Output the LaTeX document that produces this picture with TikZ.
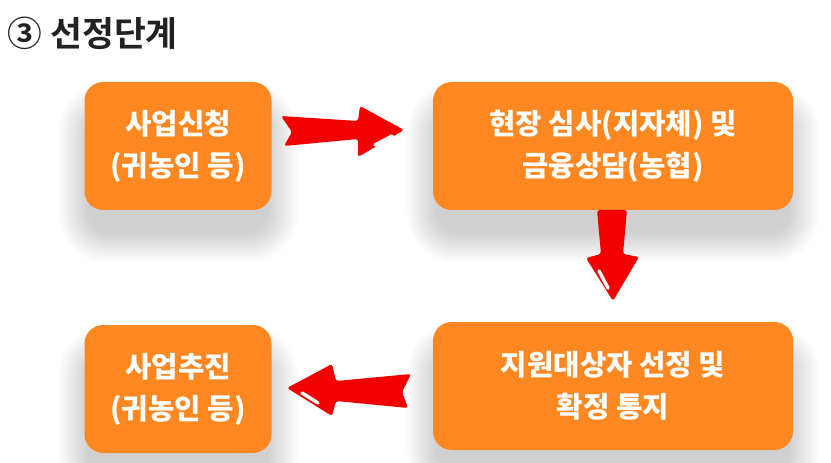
\documentclass[tikz,border=0pt]{standalone}
\usepackage{fontspec}
\setmainfont{Noto Sans CJK KR}[BoldFont={Noto Sans CJK KR Bold}]
\newfontfamily\heavyfont{Noto Sans CJK KR Black}
\usepackage{tikz}
\usetikzlibrary{backgrounds, calc}
\definecolor{sorange}{HTML}{FD8821}
\definecolor{sred}{HTML}{F20000}
\definecolor{stitle}{HTML}{222222}
\tikzset{
  stepbox/.style={fill=sorange, rounded corners=14pt, text=white, align=center,
                  font=\fontsize{21.5}{31.5}\selectfont\heavyfont, inner sep=0pt,
                  minimum height=96pt},
  bigarr/.style={fill=sred, rounded corners=2pt},
  glint/.style={white, line width=2.6pt, line cap=round},
}
\begin{document}
\begin{tikzpicture}[x=0.75pt, y=-0.75pt]
  \useasboundingbox (0,0) rectangle (831,463);
  \node[anchor=west, text=stitle, font=\fontsize{26}{30}\selectfont\bfseries] (title) at (3,33) {③ 선정단계};

  \node[stepbox, minimum width=140.25pt] (apply) at (178,146) {사업신청\\(귀농인 등)};
  \node[stepbox, minimum width=270pt] (review) at (613,146) {현장 심사(지자체) 및\\금융상담(농협)};
  \node[stepbox, minimum width=270pt] (notify) at (613,386) {지원대상자 선정 및\\확정 통지};
  \node[stepbox, minimum width=140.25pt] (run) at (178,389) {사업추진\\(귀농인 등)};

  % soft shadows under the boxes
  \begin{scope}[on background layer]
    \foreach \n in {apply, review, notify, run}
      \foreach \i in {0,2,...,30}
        \fill[black, opacity=0.011, rounded corners=14pt+\i*0.75pt]
          ($(\n.north west)+(-\i+4,-\i+32)$) rectangle ($(\n.south east)+(\i-4,\i+22)$);
  \end{scope}

  % arrows between steps
  \fill[bigarr] (281,116) -- (358,121) -- (360,106) -- (404,130) -- (358,157)
    -- (358,139) -- (284,146) -- (292,132) -- cycle;
  \draw[glint] (375,145) -- (392,136);
  \fill[bigarr] (597,210) -- (627,210) -- (623,254) -- (639,257) -- (613,301)
    -- (586,258) -- (601,254) -- cycle;
  \draw[glint] (599,271) -- (608,288);
  \fill[bigarr] (411,374) -- (336,381) -- (332,364) -- (287,388) -- (332,416)
    -- (336,401) -- (408,408) -- (402,392) -- cycle;
  \draw[glint] (302,393) -- (318,403);
\end{tikzpicture}
\end{document}
